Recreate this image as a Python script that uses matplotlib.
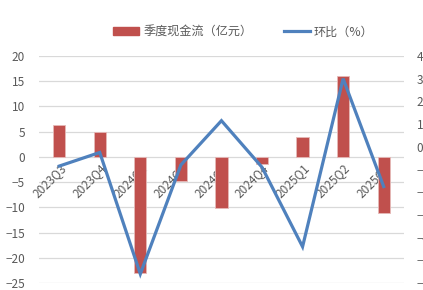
import matplotlib
matplotlib.use("Agg")
import matplotlib.pyplot as plt
from matplotlib.lines import Line2D
from matplotlib.patches import Patch
import numpy as np

plt.rcParams['font.family'] = ['Noto Sans CJK SC', 'DejaVu Sans']

categories = ["2023Q3", "2023Q4", "2024Q1", "2024Q2", "2024Q3", "2024Q4", "2025Q1", "2025Q2", "2025Q3"]
cash_flow = [6.3, 4.9, -23.0, -4.8, -10.2, -1.4, 4.0, 16.0, -11.2]
qoq_pct = [-0.85, -0.25, -5.6, -0.8, 1.15, -0.9, -4.4, 3.0, -1.75]
left_ticks = [20, 15, 10, 5, 0, -5, -10, -15, -20, -25]
right_ticks = [4, 3, 2, 1, 0, -1, -2, -3, -4, -5, -6]

red = "#C0504D"
blue = "#4F81BD"
grid = "#D9D9D9"
txt = "#595959"

fig = plt.figure(figsize=(4.23, 2.90), dpi=100)
ax = fig.add_axes([0.092, 0.024, 0.863, 0.783])
ax2 = ax.twinx()

x = np.arange(len(categories))
ax.bar(x, cash_flow, width=0.3, color=red, edgecolor="#E6B9B8", linewidth=0.6, zorder=2)
ax2.plot(x, qoq_pct, color=blue, lw=2.3, zorder=3, solid_joinstyle='miter')

ax.set_xlim(-0.5, len(categories) - 0.5)
ax.set_ylim(-25, 20)
ax.set_yticks(left_ticks)
ax2.set_ylim(-6, 4)
ax2.set_yticks(right_ticks)

for t in left_ticks:
    ax.axhline(t, color=grid, lw=0.9, zorder=0)

for a in (ax, ax2):
    for s in a.spines.values():
        s.set_visible(False)
ax.spines['bottom'].set_position(('data', 0))

ax.tick_params(axis='y', length=0, labelsize=8.5, labelcolor=txt, pad=10)
ax2.tick_params(axis='y', length=0, labelsize=8.5, labelcolor=txt, pad=9)
ax.set_xticks(x)
ax.set_xticklabels(categories, rotation=45, ha='right', va='top', rotation_mode='anchor')
ax.tick_params(axis='x', length=0, labelsize=8.5, labelcolor=txt, pad=3)

handles = [Patch(facecolor=red, edgecolor=red), Line2D([0], [0], color=blue, lw=2.3)]
labels = ["季度现金流（亿元）", "环比（%）"]
fig.legend(handles, labels, loc='center', bbox_to_anchor=(0.575, 0.89), ncol=2, frameon=False,
           fontsize=8.7, labelcolor=txt, handlelength=2.2, handleheight=0.6, columnspacing=2.6, handletextpad=0.3)

fig.savefig("out.png", dpi=100)
